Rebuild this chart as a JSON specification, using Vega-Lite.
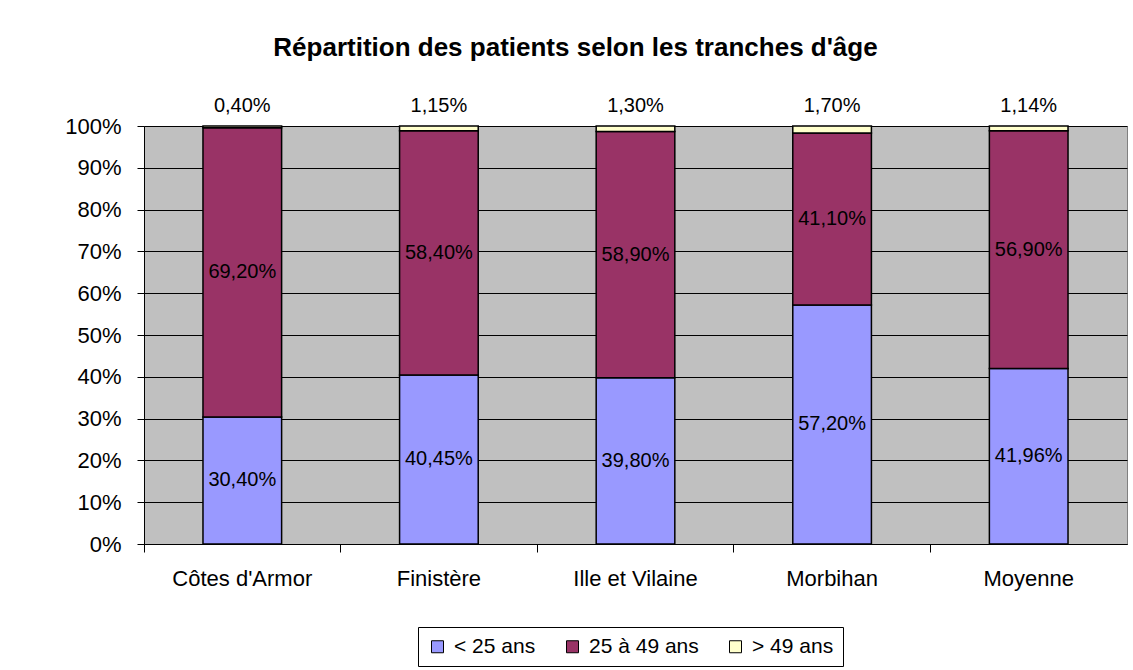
{
  "$schema": "https://vega.github.io/schema/vega-lite/v6.json",
  "width": 983,
  "height": 418,
  "autosize": {"type": "none"},
  "padding": {"left": 144, "top": 126, "right": 6, "bottom": 126},
  "background": "white",
  "config": {
    "locale": {"number": {"decimal": ",", "thousands": " ", "grouping": [3], "currency": ["", " €"]}},
    "view": {"fill": "#C0C0C0", "stroke": "#808080", "strokeWidth": 1},
    "font": "Liberation Sans",
    "text": {"font": "Liberation Sans", "fontSize": 20, "color": "black"}
  },
  "title": {
    "text": "Répartition des patients selon les tranches d'âge",
    "font": "Liberation Sans",
    "fontSize": 26,
    "fontWeight": "bold",
    "color": "black",
    "anchor": "middle",
    "baseline": "alphabetic",
    "dx": -60,
    "offset": 14
  },
  "data": {
    "values": [
      {"region": "Côtes d'Armor", "age": "< 25 ans", "order": 1, "value": 0.304},
      {"region": "Côtes d'Armor", "age": "25 à 49 ans", "order": 2, "value": 0.692},
      {"region": "Côtes d'Armor", "age": "> 49 ans", "order": 3, "value": 0.004},
      {"region": "Finistère", "age": "< 25 ans", "order": 1, "value": 0.4045},
      {"region": "Finistère", "age": "25 à 49 ans", "order": 2, "value": 0.584},
      {"region": "Finistère", "age": "> 49 ans", "order": 3, "value": 0.0115},
      {"region": "Ille et Vilaine", "age": "< 25 ans", "order": 1, "value": 0.398},
      {"region": "Ille et Vilaine", "age": "25 à 49 ans", "order": 2, "value": 0.589},
      {"region": "Ille et Vilaine", "age": "> 49 ans", "order": 3, "value": 0.013},
      {"region": "Morbihan", "age": "< 25 ans", "order": 1, "value": 0.572},
      {"region": "Morbihan", "age": "25 à 49 ans", "order": 2, "value": 0.411},
      {"region": "Morbihan", "age": "> 49 ans", "order": 3, "value": 0.017},
      {"region": "Moyenne", "age": "< 25 ans", "order": 1, "value": 0.4196},
      {"region": "Moyenne", "age": "25 à 49 ans", "order": 2, "value": 0.569},
      {"region": "Moyenne", "age": "> 49 ans", "order": 3, "value": 0.0114}
    ]
  },
  "transform": [
    {"stack": "value", "groupby": ["region"], "sort": [{"field": "order", "order": "ascending"}], "as": ["v0", "v1"]},
    {"calculate": "(datum.v0 + datum.v1) / 2", "as": "mid"}
  ],
  "encoding": {
    "x": {
      "field": "region",
      "type": "nominal",
      "sort": null,
      "scale": {"paddingInner": 0, "paddingOuter": 0},
      "axis": {
        "title": null,
        "labelAngle": 0,
        "labelFontSize": 22,
        "labelColor": "black",
        "labelFont": "Liberation Sans",
        "labelPadding": 16,
        "tickColor": "black",
        "tickSize": 8,
        "bandPosition": 0,
        "domainColor": "black",
        "grid": false
      }
    }
  },
  "layer": [
    {
      "mark": {"type": "bar", "stroke": "black", "strokeWidth": 1.5, "width": {"band": 0.4}},
      "encoding": {
        "y": {
          "field": "v0",
          "type": "quantitative",
          "scale": {"domain": [0, 1], "nice": false},
          "axis": {
            "title": null,
            "format": ".0%",
            "values": [0, 0.1, 0.2, 0.3, 0.4, 0.5, 0.6, 0.7, 0.8, 0.9, 1],
            "labelFontSize": 22,
            "labelColor": "black",
            "labelFont": "Liberation Sans",
            "labelPadding": 16,
            "tickColor": "black",
            "tickSize": 7,
            "domainColor": "black",
            "grid": true,
            "gridColor": "black",
            "gridWidth": 1
          }
        },
        "y2": {"field": "v1"},
        "color": {
          "field": "age",
          "type": "nominal",
          "sort": ["< 25 ans", "25 à 49 ans", "> 49 ans"],
          "scale": {"domain": ["< 25 ans", "25 à 49 ans", "> 49 ans"], "range": ["#9999FF", "#993366", "#FFFFCC"]},
          "legend": {
            "title": null,
            "orient": "none",
            "legendX": 274,
            "legendY": 501,
            "direction": "horizontal",
            "strokeColor": "black",
            "fillColor": "white",
            "padding": 9,
            "labelFontSize": 21,
            "labelFont": "Liberation Sans",
            "labelColor": "black",
            "symbolType": "square",
            "symbolSize": 144,
            "symbolStrokeColor": "black",
            "symbolStrokeWidth": 1,
            "symbolOpacity": 1,
            "columnPadding": 26,
            "labelOffset": 6
          }
        }
      }
    },
    {
      "transform": [{"filter": "datum.order < 3"}],
      "mark": {"type": "text", "baseline": "middle", "align": "center"},
      "encoding": {
        "y": {"field": "mid", "type": "quantitative"},
        "text": {"field": "value", "type": "quantitative", "format": ".2%"}
      }
    },
    {
      "transform": [{"filter": "datum.order == 3"}],
      "mark": {"type": "text", "baseline": "alphabetic", "align": "center", "dy": -14},
      "encoding": {
        "y": {"field": "v1", "type": "quantitative"},
        "text": {"field": "value", "type": "quantitative", "format": ".2%"}
      }
    }
  ]
}
